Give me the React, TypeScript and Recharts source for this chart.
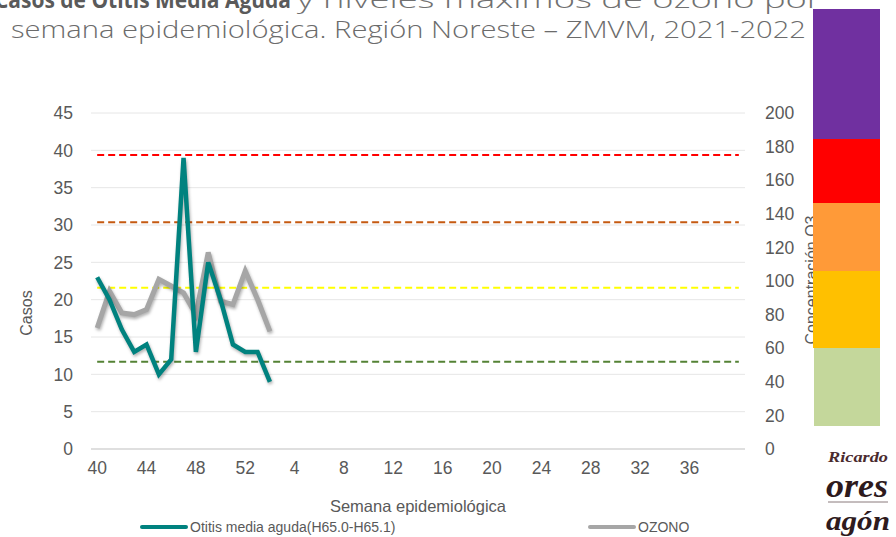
import { ComposedChart, Line, XAxis, YAxis, CartesianGrid, ReferenceLine } from 'recharts';

// semanas epidemiológicas 40/2021 .. 40/2022
const weeks = [
  '40', '41', '42', '43', '44', '45', '46', '47', '48', '49', '50', '51', '52',
  '1', '2', '3', '4', '5', '6', '7', '8', '9', '10', '11', '12', '13', '14', '15', '16', '17', '18', '19', '20',
  '21', '22', '23', '24', '25', '26', '27', '28', '29', '30', '31', '32', '33', '34', '35', '36', '37', '38', '39', '40',
];
const otitis = [23, 20, 16, 13, 14, 10, 12, 39, 13, 25, 20, 14, 13, 13, 9];
const ozono = [72, 94, 81, 80, 83, 101, 97, 93, 80, 117, 88, 86, 106, 89, 70];

const xTicks = [0, 4, 8, 12, 16, 20, 24, 28, 32, 36, 40, 44, 48];
const casosTicks = [0, 5, 10, 15, 20, 25, 30, 35, 40, 45];
const ozonoTicks = [0, 20, 40, 60, 80, 100, 120, 140, 160, 180, 200];

// límites de ozono (ppb) dibujados como líneas punteadas
const limites = [175, 135, 96, 52];
const limiteColors = ['#FF0000', '#C55A11', '#FFFF00', '#548235'];

const seriesNames = ['Otitis media aguda(H65.0-H65.1)', 'OZONO'];
const TEAL = '#00827F';
const GREY = '#A6A6A6';
const TXT = '#595959';
const FONT = '"Liberation Sans", Arial, sans-serif';

const data = weeks.map((week, i) => ({
  idx: i,
  week,
  otitis: otitis[i],
  ozono: ozono[i],
}));

export default function App() {
  return (
    <div style={{ position: 'absolute', left: 0, top: 0, width: 896, height: 537, background: '#fff', fontFamily: FONT, overflow: 'hidden' }}>
      <style>{`.sh path { filter: drop-shadow(1px 2px 1.5px rgba(0,0,0,0.3)); }`}</style>
      <ComposedChart width={896} height={537} data={data} margin={{ top: 113, right: 0, bottom: 0, left: 0 }}>
        <CartesianGrid yAxisId="left" vertical={false} stroke="#E6E6E6" />
        <XAxis
          dataKey="idx"
          type="number"
          domain={[-0.5, 52.5]}
          ticks={xTicks}
          tickFormatter={(i: number) => weeks[i]}
          height={88}
          tickLine={false}
          tickMargin={7}
          axisLine={{ stroke: '#D9D9D9', strokeWidth: 1.5 }}
          tick={{ fill: TXT, fontSize: 17.5, fontFamily: FONT }}
          label={{ value: 'Semana epidemiológica', position: 'insideBottom', offset: 25, fill: TXT, fontSize: 16.5, fontFamily: FONT }}
        />
        <YAxis
          yAxisId="left"
          domain={[0, 45]}
          ticks={casosTicks}
          width={91}
          tickLine={false}
          axisLine={false}
          tickMargin={12}
          tick={{ fill: TXT, fontSize: 17.5, fontFamily: FONT }}
          label={{
            content: () => (
              <text x={26} y={313} transform="rotate(-90 26 313)" textAnchor="middle" dominantBaseline="central" fill={TXT} fontSize={16} fontFamily={FONT}>
                Casos
              </text>
            ),
          }}
        />
        <YAxis
          yAxisId="right"
          orientation="right"
          domain={[0, 200]}
          ticks={ozonoTicks}
          width={151}
          tickLine={false}
          axisLine={false}
          tickMargin={14}
          tick={{ fill: TXT, fontSize: 17.5, fontFamily: FONT, textAnchor: 'start' }}
          label={{
            content: () => (
              <text x={817} y={280} transform="rotate(-90 817 280)" textAnchor="middle" fill={TXT} fontSize={16} fontFamily={FONT}>
                Concentración O3
              </text>
            ),
          }}
        />
        {limites.map((v, i) => (
          <ReferenceLine
            key={v}
            yAxisId="right"
            segment={[{ x: 0, y: v }, { x: 52, y: v }]}
            stroke={limiteColors[i]}
            strokeWidth={2}
            strokeDasharray="7 4"
          />
        ))}
        <Line
          yAxisId="right"
          dataKey="ozono"
          name={seriesNames[1]}
          className="sh"
          stroke={GREY}
          strokeWidth={5}
          dot={false}
          type="linear"
          isAnimationActive={false}
        />
        <Line
          yAxisId="left"
          dataKey="otitis"
          name={seriesNames[0]}
          className="sh"
          stroke={TEAL}
          strokeWidth={4.5}
          dot={false}
          type="linear"
          isAnimationActive={false}
        />
      </ComposedChart>

      {/* leyenda */}
      <div style={{ position: 'absolute', left: 140, top: 519, display: 'flex', alignItems: 'center', fontSize: 14, color: TXT }}>
        <span style={{ display: 'inline-block', width: 48, height: 4, borderRadius: 2, background: TEAL, marginRight: 2 }} />
        {seriesNames[0]}
      </div>
      <div style={{ position: 'absolute', left: 588, top: 519, display: 'flex', alignItems: 'center', fontSize: 14, color: TXT }}>
        <span style={{ display: 'inline-block', width: 48, height: 4, borderRadius: 2, background: GREY, marginRight: 2 }} />
        {seriesNames[1]}
      </div>

      {/* título, barra de categorías y logo */}
      <svg width={896} height={537} style={{ position: 'absolute', left: 0, top: 0, pointerEvents: 'none' }}>
        <text y={8} fontFamily='"Open Sans", sans-serif' fontSize={23} fill="#707070">
          <tspan x={-5} fontWeight={700} fill="#5A5A5A" textLength={296} lengthAdjust="spacingAndGlyphs">
            Casos de Otitis Media Aguda
          </tspan>
          <tspan x={297} fontWeight={300} textLength={524} lengthAdjust="spacingAndGlyphs">
            y niveles máximos de ozono por
          </tspan>
        </text>
        <text x={11} y={38} fontFamily='"Open Sans", sans-serif' fontWeight={300} fontSize={23} fill="#6B6B6B" textLength={795} lengthAdjust="spacingAndGlyphs">
          semana epidemiológica. Región Noreste – ZMVM, 2021-2022
        </text>

        <rect x={813} y={9} width={67} height={130} fill="#7030A0" />
        <rect x={813} y={139} width={67} height={64} fill="#FF0000" />
        <rect x={813} y={203} width={67} height={68} fill="#FF9A38" />
        <rect x={813} y={271} width={67} height={77} fill="#FFC000" />
        <rect x={814} y={348} width={66} height={78} fill="#C4D79B" />

        <text x={828} y={462} fontFamily='"Liberation Serif", serif' fontStyle="italic" fontWeight={700} fontSize={15} fill="#4A2A2E" textLength={60} lengthAdjust="spacingAndGlyphs">
          Ricardo
        </text>
        <text x={826} y={497} fontFamily='"Liberation Serif", serif' fontStyle="italic" fontWeight={700} fontSize={34} fill="#2E1A1D" textLength={62} lengthAdjust="spacingAndGlyphs">
          ores
        </text>
        <line x1={828} y1={502} x2={888} y2={502} stroke="#8A7A7C" strokeWidth={1} />
        <text x={826} y={530} fontFamily='"Liberation Serif", serif' fontStyle="italic" fontWeight={700} fontSize={28} fill="#2E1A1D" textLength={64} lengthAdjust="spacingAndGlyphs">
          agón
        </text>
      </svg>
    </div>
  );
}
